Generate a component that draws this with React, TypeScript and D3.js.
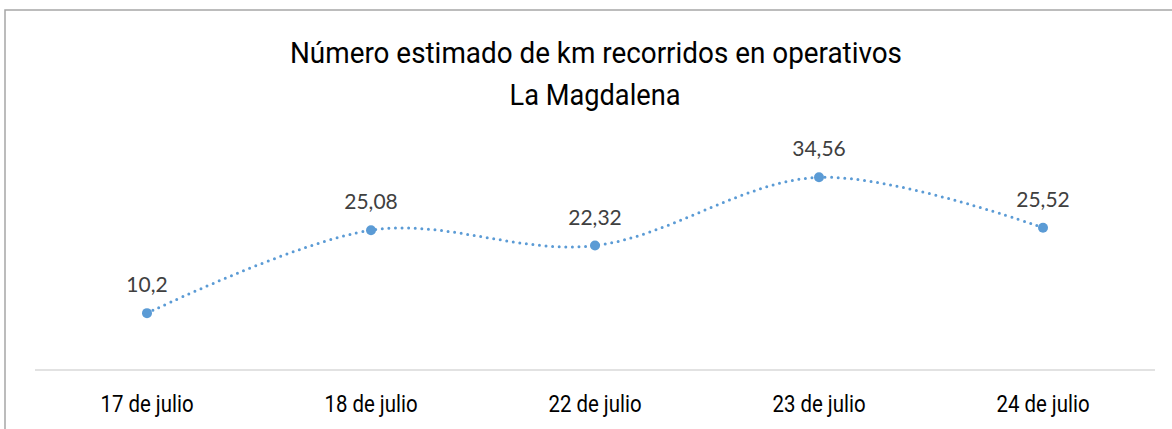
import * as d3 from "d3";

const categories = ["17 de julio", "18 de julio", "22 de julio", "23 de julio", "24 de julio"];
const kmValues = [10.2, 25.08, 22.32, 34.56, 25.52];
const titleLines = ["Número estimado de km recorridos en operativos", "La Magdalena"];

const W = 1172;
const H = 429;

export default function App() {
  const plot = { left: 35, right: 1155, top: 147, bottom: 370 };

  const x = d3
    .scaleBand<string>()
    .domain(categories)
    .range([plot.left, plot.right])
    .padding(0);

  const y = d3.scaleLinear().domain([0, 40]).range([plot.bottom, plot.top]);

  const cx = (c: string) => (x(c) || 0) + x.bandwidth() / 2;

  const points = categories.map((c, i) => ({ cat: c, value: kmValues[i] }));

  // Excel-style smoothed line
  const line = d3
    .line<{ cat: string; value: number }>()
    .x((d) => cx(d.cat))
    .y((d) => y(d.value))
    .curve(d3.curveCardinal.tension(0));

  const fmt = (v: number) => String(v).replace(".", ",");

  return (
    <>
      <style>{"body{margin:0}"}</style>
      <svg width={W} height={H} style={{ display: "block", background: "#fff" }}>
        {/* Chart border */}
        <rect x={5} y={10} width={W + 20} height={H + 20} fill="#fff" stroke="#a6a6a6" strokeWidth={1.5} />

        {/* Title (condensed look) */}
        <g fontFamily="Roboto, sans-serif" fontSize={29} fill="#000" textAnchor="middle">
          <text x={596} y={63} textLength={612} lengthAdjust="spacingAndGlyphs">
            {titleLines[0]}
          </text>
          <text x={595} y={105} textLength={171} lengthAdjust="spacingAndGlyphs">
            {titleLines[1]}
          </text>
        </g>

        {/* Category axis */}
        <line x1={plot.left} x2={plot.right} y1={plot.bottom} y2={plot.bottom} stroke="#d9d9d9" strokeWidth={1.5} />
        {categories.map((c) => (
          <g key={c} transform={`translate(${cx(c)},412) scale(0.85,1)`}>
            <text textAnchor="middle" fontFamily="Roboto, sans-serif" fontSize={24} fill="#000">
              {c}
            </text>
          </g>
        ))}

        {/* Series */}
        <path
          d={line(points) || ""}
          fill="none"
          stroke="#5b9bd5"
          strokeWidth={3}
          strokeLinecap="round"
          strokeDasharray="0 6.6"
        />
        {points.map((d) => (
          <circle key={d.cat} cx={cx(d.cat)} cy={y(d.value)} r={5} fill="#5b9bd5" />
        ))}

        {/* Data labels */}
        {points.map((d) => (
          <text
            key={d.cat}
            x={cx(d.cat)}
            y={y(d.value) - 21}
            textAnchor="middle"
            fontFamily="Lato, sans-serif"
            fontSize={21}
            fill="#404040"
          >
            {fmt(d.value)}
          </text>
        ))}
      </svg>
    </>
  );
}
